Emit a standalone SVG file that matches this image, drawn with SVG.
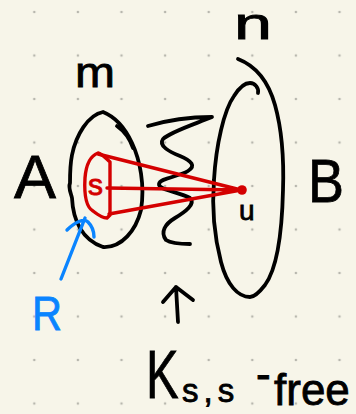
<svg xmlns="http://www.w3.org/2000/svg" width="356" height="414" viewBox="0 0 356 414">
<defs>
<style>
.ink{fill:none;stroke:#000;stroke-width:3.8;stroke-linecap:round;stroke-linejoin:round}
.red{fill:none;stroke:#d40000;stroke-width:3.4;stroke-linecap:round;stroke-linejoin:round}
.blue{fill:none;stroke:#0a84ff;stroke-width:3.4;stroke-linecap:round;stroke-linejoin:round}
.t{font-family:"Liberation Sans","DejaVu Sans",sans-serif;fill:#000;stroke:#000;stroke-width:0.8}
.dot{fill:#b8b7ae}
</style>
<pattern id="grid" x="12.5" y="-9.75" width="43.6" height="43.5" patternUnits="userSpaceOnUse">
<circle class="dot" cx="21.8" cy="21.75" r="1.3"/>
</pattern>
</defs>
<rect width="356" height="414" fill="#f7f5e9"/>
<rect width="356" height="414" fill="url(#grid)"/>

<g id="setA">
<path class="ink" d="M103,112 C 88,115 76,135 72,155 C 70,165 70,175 70,183 C 68,188 71,193 72,198 C 73,220 82,240 103,247 C 122,248 136,230 141,210 C 145,185 140,160 132,143 C 126,130 118,118 103,112 Z"/>
<path class="ink" d="M117,126 C 124,131 130,139 133,148"/>
<text class="t" x="75" y="87" font-size="42" textLength="40" lengthAdjust="spacingAndGlyphs">m</text>
<text class="t" x="14" y="198" font-size="62" textLength="42" lengthAdjust="spacingAndGlyphs">A</text>
</g>

<g id="setB">
<path class="ink" d="M238,59 C 256,66 268,80 275,105 C 282,130 284,160 283,190 C 282,235 276,270 265,285 C 258,294 254,297 250,297 C 238,297 227,285 221,262 C 214,235 212,205 214,180 C 216,145 224,110 234,96 C 239,88 244,83 250,83 C 255,83 259,88 258,93"/>
<text class="t" x="234" y="39" font-size="44" textLength="38" lengthAdjust="spacingAndGlyphs">n</text>
<text class="t" x="308" y="202" font-size="62" textLength="36" lengthAdjust="spacingAndGlyphs">B</text>
<text class="t" x="239" y="220" font-size="28">u</text>
</g>

<g id="zigzag">
<path class="ink" d="M148,126 C 168,120 190,117 212,117 C 195,124 170,132 163,139 C 158,146 170,152 180,156 C 192,161 196,166 188,171 C 178,177 160,178 159,184 C 158,190 180,192 190,198 C 196,204 185,212 175,218 C 165,224 160,232 166,240 C 172,244 182,244 190,244"/>
</g>

<g id="cone">
<path class="red" d="M98,153 C 90,156 86,165 85,178 C 84,195 86,207 93,211 C 98,215 103,218 107,218 L 110,215 L 110,162 C 106,158 102,154 98,153 Z"/>
<path class="red" d="M98,154 L241,190 M107,188 L241,190 M109,214 L241,190"/>
<circle cx="242" cy="190" r="4.8" fill="#d40000"/>
<text x="88" y="195" font-size="30" font-family="Liberation Sans, sans-serif" fill="#d40000" stroke="#d40000" stroke-width="0.8">s</text>
</g>

<g id="connectors">
<path class="blue" d="M61,279 L85,218 M67,230 C 75,222 84,218 88,222 C 92,226 94,232 94,237"/>
<path class="ink" d="M178,322 L176,287 M163,302 L176,287 L193,300"/>
</g>

<g id="labelR">
<text x="32" y="330" font-size="48" textLength="30" lengthAdjust="spacingAndGlyphs" font-family="Liberation Sans, sans-serif" fill="#0a84ff" stroke="#0a84ff" stroke-width="0.8">R</text>
</g>

<g id="labelK">
<text class="t" font-size="68" transform="translate(146,398) scale(0.72,1)">K</text>
<text class="t" x="182" y="402" font-size="33" letter-spacing="5">s,s</text>
<text class="t" x="256" y="405" font-size="44"><tspan dy="-16">-</tspan><tspan x="274" dy="16">free</tspan></text>
</g>
</svg>
